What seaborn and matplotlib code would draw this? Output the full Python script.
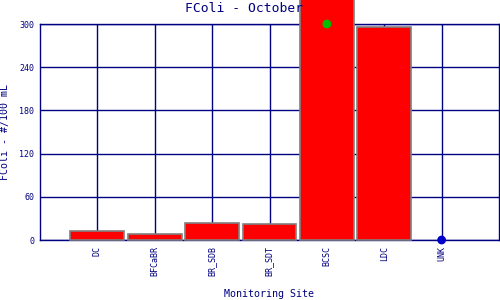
import matplotlib
matplotlib.use("Agg")
import matplotlib.pyplot as plt
import seaborn as sns
import numpy as np
import pandas as pd

sites = ["DC", "BFCaBR", "BR_SDB", "BR_SDT", "BCSC", "LDC", "UNK"]
values = [12.5, 8, 23.5, 22, 1000, 296, np.nan]
marker_sites = ["BCSC", "UNK"]
marker_values = [300, 0]
marker_colors = ["#00c000", "#0000cc"]
yticks = [0, 60, 120, 180, 240, 300]

navy = "#000080"
sns.set_theme(style="white")
plt.rcParams['font.family'] = ['DejaVu Sans Mono', 'DejaVu Sans']

fig = plt.figure(figsize=(5, 3), dpi=100)
ax = fig.add_axes([0.08, 0.2, 0.918, 0.72])

df = pd.DataFrame({"site": sites, "value": values})
sns.barplot(data=df, x="site", y="value", order=sites, color="red",
            saturation=1, width=0.94, edgecolor="#808080", linewidth=1.2,
            ax=ax, zorder=3)
for p in ax.patches:
    p.set_clip_on(False)

xpos = [sites.index(s) for s in marker_sites]
sns.scatterplot(x=xpos, y=marker_values, hue=marker_sites, palette=marker_colors,
                s=40, edgecolor="none", legend=False, ax=ax, zorder=5, clip_on=False)

ax.set_xlim(-1, 7)
ax.set_ylim(0, 300)
ax.set_yticks(yticks)
ax.set_xticks(range(len(sites)))
ax.set_xticklabels(sites, rotation=90, fontsize=6, color=navy)
ax.set_yticklabels([str(v) for v in yticks], fontsize=6, color=navy)
ax.tick_params(length=0, pad=4)
ax.grid(True, color=navy, linewidth=1)
ax.set_axisbelow(True)
for s in ax.spines.values():
    s.set_color(navy)
    s.set_linewidth(1)
    s.set_visible(True)

ax.set_xlabel("Monitoring Site", fontsize=7.2, color=navy)
ax.xaxis.set_label_coords(0.5, -0.225)
ax.set_ylabel("FColi - #/100 mL", fontsize=7.2, color=navy, labelpad=7)
fig.text(0.37, 0.972, "FColi - October", fontsize=9.4, color=navy,
         ha="left", va="center", zorder=0)

fig.savefig("out.png", dpi=100)
